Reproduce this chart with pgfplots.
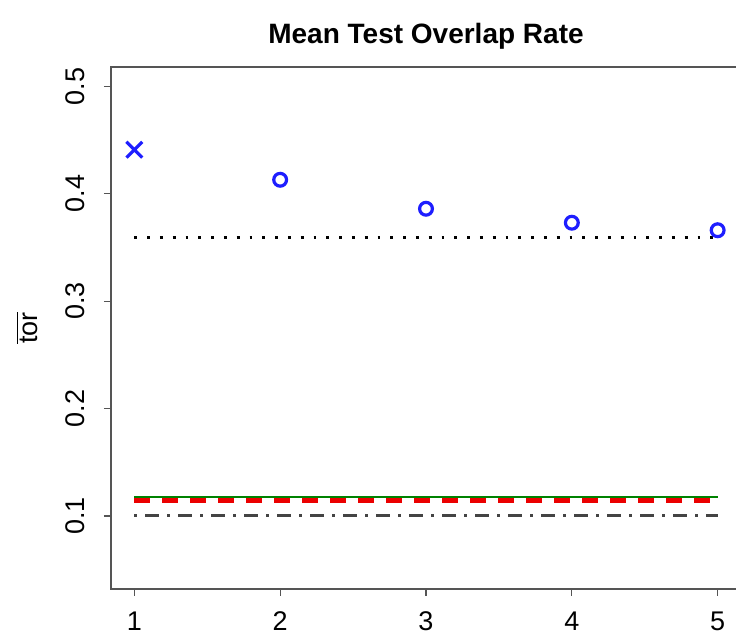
\documentclass[border=0pt]{standalone}
\usepackage{pgfplots}
\pgfplotsset{compat=1.18}
\usepackage{fontspec}
\setmainfont{Liberation Sans}
\usetikzlibrary{calc}
\definecolor{rblue}{RGB}{30,30,255}
\definecolor{rgreen}{RGB}{0,130,0}
\definecolor{rred}{RGB}{235,0,0}
\definecolor{axgray}{RGB}{85,85,85}
\begin{document}
\begin{tikzpicture}
\begin{axis}[
  scale only axis,
  width=315pt, height=261pt,
  xmin=0.84, xmax=5.16, ymin=0.032, ymax=0.518,
  xtick={1,2,3,4,5}, ytick={0.1,0.2,0.3,0.4,0.5},
  yticklabel style={rotate=90, anchor=south, font=\fontsize{13.5}{15}\selectfont, /pgf/number format/fixed, /pgf/number format/precision=1},
  xticklabel style={font=\fontsize{13.5}{15}\selectfont},
  yticklabel shift=6pt,
  xticklabel shift=4.5pt,
  /pgf/number format/assume math mode=true,
  tick align=outside, major tick length=3.5pt,
  xtick pos=bottom, ytick pos=left,
  every tick/.style={axgray, line width=0.6pt},
  axis line style={axgray, line width=0.75pt},
  title={\bfseries Mean Test Overlap Rate},
  title style={font=\fontsize{14}{16}\selectfont, at={(axis description cs:0.5,1)}, anchor=center, yshift=9.5pt},
  ylabel={$\overline{\mbox{tor}}$},
  ylabel style={font=\fontsize{13.5}{15}\selectfont, at={(axis description cs:-0.133,0.5)}, anchor=center},
  clip=false,
]
\addplot[rblue, only marks, mark=x, mark size=5.6pt, line width=1.6pt] coordinates {(1,0.441)};
\addplot[rblue, only marks, mark=o, mark size=3.2pt, line width=1.6pt] coordinates {(2,0.413) (3,0.386) (4,0.373) (5,0.366)};
\addplot[black, line width=1.4pt, dash pattern=on 1.4pt off 5pt] coordinates {(1,0.359) (5,0.359)};
\addplot[rgreen, line width=1.1pt] coordinates {(1,0.1175) (5,0.1175)};
\addplot[rred, line width=2.4pt, dash pattern=on 8pt off 6pt] coordinates {(1,0.1145) (5,0.1145)};
\addplot[axgray!80!black, line width=1.5pt, dash pattern=on 1.5pt off 4pt on 7pt off 4pt] coordinates {(1,0.1) (5,0.1)};
\end{axis}
\pgfresetboundingbox
\path[use as bounding box] ($(current axis.south west)+(-55.5pt,-22.5pt)$) rectangle ($(current axis.north west)+(312.5pt,33.5pt)$);
\end{tikzpicture}
\end{document}
